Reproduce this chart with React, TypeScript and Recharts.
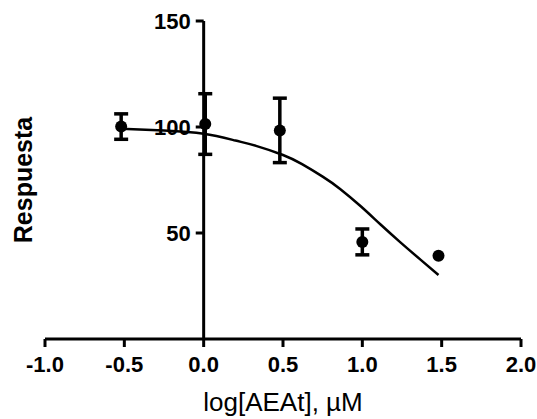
import React from 'react';
import { ComposedChart, XAxis, YAxis, Scatter, Line, ErrorBar, ReferenceLine } from 'recharts';

// Measured data points (mean ± error)
const pointX = [-0.52, 0.01, 0.48, 1.0, 1.48];
const pointY = [100.2, 101.4, 98.4, 45.8, 39.3];
const pointErr: (number | null)[] = [6, 14.3, 15.2, 6.1, null];

// Fitted curve
const curveX = [-0.52, -0.25, 0.0, 0.2, 0.33, 0.5, 0.62, 0.75, 0.86, 0.99, 1.115, 1.24, 1.37, 1.48];
const curveY = [99.2, 98.3, 96.8, 93.6, 91.1, 86.8, 82.5, 76.6, 70.8, 62.6, 54.0, 45.6, 37.2, 30.2];

// Axis ticks
const xTicks = [-1, -0.5, 0, 0.5, 1, 1.5, 2];
const yTicks = [50, 100, 150];

const points = pointX.map((x, i) => ({ x, y: pointY[i], err: pointErr[i] }));
const curve = curveX.map((x, i) => ({ x, y: curveY[i] }));

const FONT = '"Liberation Sans", Arial, Helvetica, sans-serif';
const TICK_LEN = 0.05; // y tick length in x-units (~8px)

const Dot = (props: any) => {
  const { cx, cy } = props;
  if (cx == null || cy == null) return null;
  return <circle cx={cx} cy={cy} r={6} fill="#000" />;
};

export default function App() {
  return (
    <div style={{ position: 'absolute', left: 0, top: 0 }}>
      <ComposedChart
        width={537}
        height={419}
        margin={{ top: 21, right: 16, bottom: 5, left: 0 }}
      >
        <XAxis
          type="number"
          dataKey="x"
          domain={[-1, 2]}
          ticks={xTicks}
          tickFormatter={(v: number) => v.toFixed(1)}
          height={75}
          axisLine={{ stroke: '#000', strokeWidth: 3 }}
          tickLine={{ stroke: '#000', strokeWidth: 3 }}
          tickSize={8}
          tickMargin={9}
          tick={{ fill: '#000', fontSize: 22, fontWeight: 'bold', fontFamily: FONT }}
          label={{
            value: 'log[AEAt], µM',
            position: 'insideBottom',
            offset: 3,
            fill: '#000',
            fontSize: 26,
            fontFamily: FONT,
          }}
          allowDataOverflow
        />
        <YAxis
          type="number"
          dataKey="y"
          domain={[0, 150]}
          width={45}
          tick={false}
          axisLine={false}
          tickLine={false}
          label={{
            value: 'Respuesta',
            angle: -90,
            position: 'center',
            dx: 1,
            fill: '#000',
            fontSize: 25,
            fontWeight: 'bold',
            fontFamily: FONT,
          }}
          allowDataOverflow
        />
        <ReferenceLine x={0} stroke="#000" strokeWidth={3} />
        {yTicks.map((v) => (
          <ReferenceLine
            key={v}
            segment={[{ x: -TICK_LEN, y: v }, { x: 0, y: v }]}
            stroke="#000"
            strokeWidth={3}
            label={{
              value: String(v),
              position: 'left',
              offset: 5,
              fill: '#000',
              fontSize: 22,
              fontWeight: 'bold',
              fontFamily: FONT,
            }}
          />
        ))}
        <Line
          data={curve}
          dataKey="y"
          type="natural"
          stroke="#000"
          strokeWidth={2.5}
          dot={false}
          activeDot={false}
          isAnimationActive={false}
        />
        <Scatter data={points} dataKey="y" shape={<Dot />} isAnimationActive={false}>
          <ErrorBar dataKey="err" direction="y" width={7} strokeWidth={3.5} stroke="#000" />
        </Scatter>
      </ComposedChart>
    </div>
  );
}
